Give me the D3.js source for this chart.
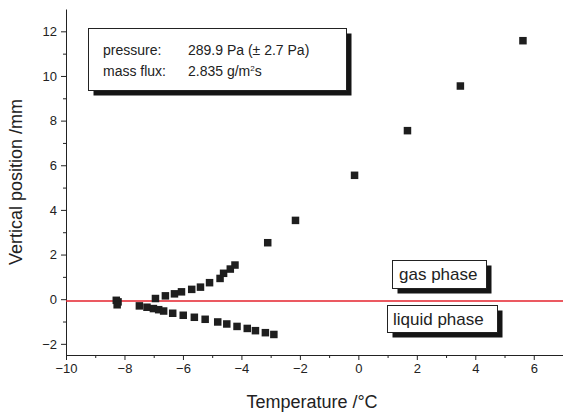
<!DOCTYPE html>
<html>
<head>
<meta charset="utf-8">
<script src="https://cdn.jsdelivr.net/npm/d3@7"></script>
<style>
body { margin: 0; background: #fff; }
text { font-family: "Liberation Sans", Arial, sans-serif; fill: #222; }
</style>
</head>
<body>
<div id="chart"></div>
<script>
// Data

// gas branch (above the interface)
const gas_temp = [-6.94, -6.60, -6.29, -6.05, -5.70, -5.40, -5.09, -4.73, -4.61, -4.38, -4.22, -3.10, -2.15, -0.13, 1.68, 3.49, 5.63];
const gas_pos  = [0.03, 0.15, 0.24, 0.33, 0.44, 0.54, 0.74, 0.93, 1.16, 1.35, 1.53, 2.53, 3.53, 5.55, 7.55, 9.55, 11.58];

// liquid branch (below the interface)
const liq_temp = [-8.28, -8.22, -8.25, -7.49, -7.23, -7.01, -6.83, -6.66, -6.35, -5.99, -5.61, -5.24, -4.81, -4.50, -4.15, -3.80, -3.52, -3.18, -2.89];
const liq_pos  = [-0.05, -0.12, -0.25, -0.30, -0.36, -0.42, -0.47, -0.53, -0.63, -0.72, -0.81, -0.90, -1.02, -1.11, -1.22, -1.31, -1.41, -1.50, -1.58];

const interface_pos = -0.08;

const x_ticks = [-10, -8, -6, -4, -2, 0, 2, 4, 6];
const y_ticks = [-2, 0, 2, 4, 6, 8, 10, 12];

const W = 563, H = 415;
const margin = {top: 9, right: 0, bottom: 60, left: 66};
const width = W - margin.left - margin.right;
const height = H - margin.top - margin.bottom;

const svg = d3.select("#chart").append("svg")
	.attr("width", W)
	.attr("height", H);

const g = svg.append("g")
	.attr("transform", `translate(${margin.left},${margin.top})`);

const x = d3.scaleLinear().domain([-10, 7]).range([0, width]);
const y = d3.scaleLinear().domain([-2.5, 13]).range([height, 0]);

// minor ticks
g.append("g")
	.attr("transform", `translate(0,${height})`)
	.call(d3.axisBottom(x).tickValues(d3.range(-9, 7, 2)).tickSize(3).tickFormat(""))
	.call(a => a.select(".domain").remove());
g.append("g")
	.call(d3.axisLeft(y).tickValues(d3.range(-1, 13, 2)).tickSize(3).tickFormat(""))
	.call(a => a.select(".domain").remove());

// main axes
const xAxis = g.append("g")
	.attr("transform", `translate(0,${height})`)
	.call(d3.axisBottom(x).tickValues(x_ticks).tickSize(5).tickPadding(4).tickSizeOuter(0));
xAxis.selectAll("text").style("font-size", "13px");

const yAxis = g.append("g")
	.call(d3.axisLeft(y).tickValues(y_ticks).tickSize(5).tickPadding(4).tickSizeOuter(0));
yAxis.selectAll("text").style("font-size", "13px");

g.selectAll(".domain, .tick line").attr("stroke", "#222");

// interface line
g.append("line")
	.attr("x1", 0)
	.attr("x2", width)
	.attr("y1", y(interface_pos))
	.attr("y2", y(interface_pos))
	.attr("stroke", "#e5222c")
	.attr("stroke-width", 1.5);

// points
const pts = gas_temp.map((t, i) => ({t: t, p: gas_pos[i]}))
	.concat(liq_temp.map((t, i) => ({t: t, p: liq_pos[i]})));
const s = 7.5;
g.selectAll(".pt")
	.data(pts)
	.join("rect")
	.attr("class", "pt")
	.attr("x", d => x(d.t) - s / 2)
	.attr("y", d => y(d.p) - s / 2)
	.attr("width", s)
	.attr("height", s)
	.attr("fill", "#1e1e1e");

// boxes with drop shadow
function box(x0, y0, w, h) {
	svg.append("rect")
		.attr("x", x0 + 5).attr("y", y0 + 5)
		.attr("width", w).attr("height", h)
		.attr("fill", "#151515");
	svg.append("rect")
		.attr("x", x0).attr("y", y0)
		.attr("width", w).attr("height", h)
		.attr("fill", "#fff")
		.attr("stroke", "#222")
		.attr("stroke-width", 1);
}

box(88.5, 28.5, 258, 62);
svg.append("text").attr("x", 103).attr("y", 55).style("font-size", "14px").text("pressure:");
svg.append("text").attr("x", 188).attr("y", 55).style("font-size", "14px").text("289.9 Pa (\u00b1 2.7 Pa)");
svg.append("text").attr("x", 103).attr("y", 76).style("font-size", "14px").text("mass flux:");
const mf = svg.append("text").attr("x", 188).attr("y", 76).style("font-size", "14px");
mf.append("tspan").text("2.835 g/m");
mf.append("tspan").attr("dy", -5).style("font-size", "8px").text("2");
mf.append("tspan").attr("dy", 5).text("s");

box(392.5, 260.5, 94, 28);
svg.append("text").attr("x", 399).attr("y", 280).style("font-size", "17px").text("gas phase");

box(387.5, 305.5, 110, 27);
svg.append("text").attr("x", 393).attr("y", 325).style("font-size", "17px").text("liquid phase");

// axis titles
svg.append("text")
	.attr("x", 312)
	.attr("y", 408)
	.attr("text-anchor", "middle")
	.style("font-size", "18px")
	.text("Temperature /\u00b0C");

svg.append("text")
	.attr("transform", `translate(22,${margin.top + height / 2}) rotate(-90)`)
	.attr("text-anchor", "middle")
	.style("font-size", "18px")
	.text("Vertical position /mm");
</script>
</body>
</html>
